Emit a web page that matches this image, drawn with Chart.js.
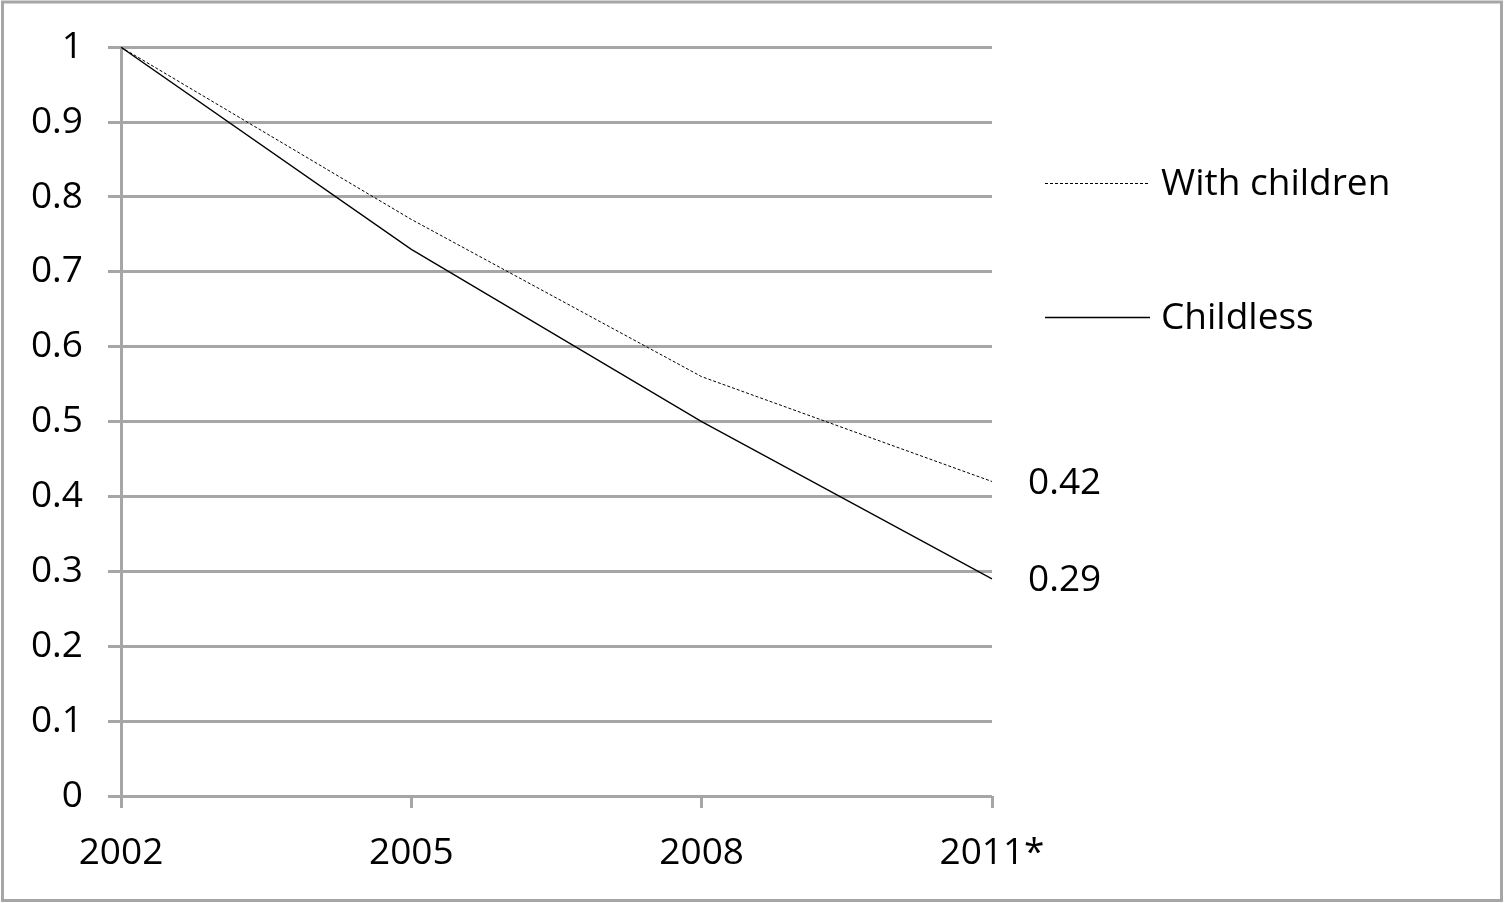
<!DOCTYPE html>
<html><head><meta charset="utf-8">
<script src="https://cdn.jsdelivr.net/npm/chart.js@4"></script>
<style>html,body{margin:0;padding:0;background:#fff}#wrap{width:1504px;height:903px;position:relative}</style>
</head><body><div id="wrap"><canvas id="c" width="1504" height="903"></canvas></div>
<script>
const years = ['2002', '2005', '2008', '2011*'];
const withChildren = [1, 0.77, 0.56, 0.42];
const childless = [1, 0.73, 0.5, 0.29];
const seriesNames = ['With children', 'Childless'];
const endLabels = ['0.42', '0.29'];

const FONT = '"Open Sans", Lato, sans-serif';
const FS = 37;
const GRID = '#a6a6a6';

const extras = {
  id: 'extras',
  beforeDraw(chart) {
    const ctx = chart.ctx;
    ctx.save();
    ctx.fillStyle = '#fff';
    ctx.fillRect(0, 0, chart.width, chart.height);
    ctx.strokeStyle = GRID;
    ctx.lineWidth = 3;
    ctx.strokeRect(2.5, 2, 1499, 898.5);
    ctx.restore();
  },
  afterDraw(chart) {
    const ctx = chart.ctx;
    const xs = chart.scales.x, ys = chart.scales.y;
    ctx.save();
    ctx.font = FS + 'px ' + FONT;
    ctx.fillStyle = '#000';
    ctx.textBaseline = 'middle';
    chart.data.datasets.forEach((ds, i) => {
      const last = ds.data.length - 1;
      const x = xs.getPixelForValue(last) + 36;
      const y = ys.getPixelForValue(ds.data[last]) + 2;
      ctx.fillText(endLabels[i], x, y);
    });
    const legY = [183, 317];
    chart.data.datasets.forEach((ds, i) => {
      ctx.beginPath();
      ctx.strokeStyle = '#000';
      ctx.lineWidth = ds.borderWidth;
      ctx.setLineDash(ds.borderDash || []);
      ctx.moveTo(1045, legY[i] + 0.5);
      ctx.lineTo(1150, legY[i] + 0.5);
      ctx.stroke();
      ctx.setLineDash([]);
      ctx.fillText(ds.label, 1161, legY[i] + 1);
    });
    ctx.restore();
  }
};

new Chart(document.getElementById('c'), {
  type: 'line',
  data: {
    labels: years,
    datasets: [
      { label: seriesNames[0], data: withChildren, borderColor: '#000', borderWidth: 1, borderDash: [3, 2], pointRadius: 0, tension: 0, fill: false },
      { label: seriesNames[1], data: childless, borderColor: '#000', borderWidth: 1.3, pointRadius: 0, tension: 0, fill: false }
    ]
  },
  options: {
    responsive: false,
    animation: false,
    layout: { padding: { left: 0, right: 512, top: 46, bottom: 0 } },
    plugins: { legend: { display: false }, tooltip: { enabled: false } },
    scales: {
      x: {
        offset: false,
        grid: { drawOnChartArea: false, drawTicks: true, tickLength: 12, color: GRID, lineWidth: 3 },
        border: { display: false },
        ticks: { color: '#000', font: { family: FONT, size: FS }, padding: 23, maxRotation: 0, autoSkip: false },
        afterFit(s) { s.height = 903 - 796; }
      },
      y: {
        min: 0, max: 1,
        grid: { color: GRID, lineWidth: 3, tickLength: 13, drawTicks: true },
        border: { display: true, color: GRID, width: 3 },
        ticks: { stepSize: 0.1, color: '#000', font: { family: FONT, size: FS }, padding: 25,
          callback: v => String(Math.round(v * 10) / 10) },
        afterFit(s) { s.width = 121; }
      }
    }
  },
  plugins: [extras]
});
</script></body></html>
